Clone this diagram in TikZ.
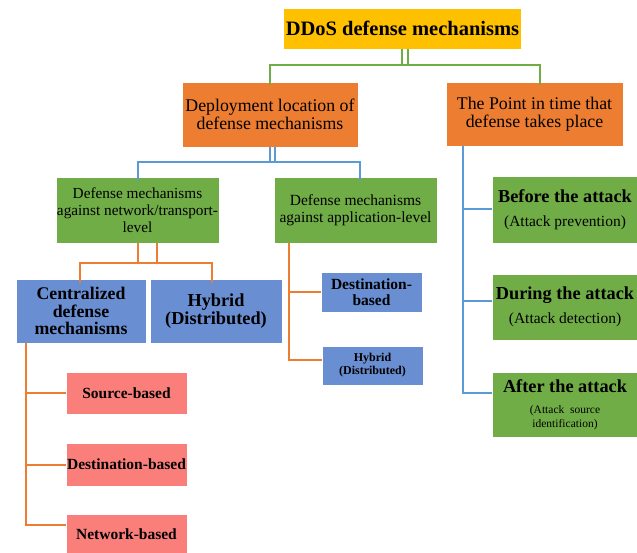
\documentclass[tikz,border=0pt]{standalone}
\usepackage{fontspec}
\setmainfont{Liberation Serif}
\definecolor{cyel}{HTML}{FFC000}
\definecolor{corg}{HTML}{ED7D31}
\definecolor{cgrn}{HTML}{70AD47}
\definecolor{cblu}{HTML}{6A8ED2}
\definecolor{cpnk}{HTML}{FA7F7A}
\definecolor{lblu}{HTML}{5B9BD5}
\newcommand{\smallsrc}{\fontsize{11.5}{13.5}\selectfont}
\newcommand{\subln}{\fontsize{15.5}{20}\selectfont}
\begin{document}
\begin{tikzpicture}[x=1pt,y=-1pt,
  box/.style={draw=white,line width=0.6pt,inner sep=1pt,align=center,text=black},
  gline/.style={draw=cgrn,line width=2pt},
  bline/.style={draw=lblu,line width=2pt},
  oline/.style={draw=corg,line width=2pt}]
\useasboundingbox (0,0) rectangle (637,553);
% top
\node[box,fill=cyel,minimum width=238,minimum height=41,font=\fontsize{20.5}{22}\selectfont\bfseries] (top) at (402.5,28.5) {DDoS defense mechanisms};
% level 1
\node[box,fill=corg,minimum width=176,minimum height=65,font=\fontsize{17.8}{18.5}\selectfont] (dep) at (270,114.5) {Deployment location of\\defense mechanisms};
\node[box,fill=corg,minimum width=177,minimum height=64,font=\fontsize{17.8}{18.5}\selectfont] (tim) at (534.5,114) {The Point in time that\\defense takes place};
% level 2
\node[box,fill=cgrn,minimum width=163,minimum height=66,font=\fontsize{15.3}{16.7}\selectfont] (net) at (137.5,210) {Defense mechanisms\\against network/transport-\\level};
\node[box,fill=cgrn,minimum width=163,minimum height=66,font=\fontsize{15.5}{17}\selectfont] (app) at (355.5,210) {Defense mechanisms\\against application-level};
% level 3
\node[box,fill=cblu,minimum width=130,minimum height=64,font=\fontsize{17.8}{17.8}\selectfont\bfseries] (cen) at (81,311) {Centralized\\defense\\mechanisms};
\node[box,fill=cblu,minimum width=132,minimum height=64,font=\fontsize{18.3}{18.5}\selectfont\bfseries] (hyb) at (216,311) {Hybrid\\(Distributed)};
\node[box,fill=cblu,minimum width=101,minimum height=40,font=\fontsize{15.5}{15.5}\selectfont\bfseries] (dst) at (371.5,292) {Destination-\\based};
\node[box,fill=cblu,minimum width=101,minimum height=39,font=\fontsize{12}{13}\selectfont\bfseries] (hyb2) at (372.5,365.5) {Hybrid\\(Distributed)};
% pink
\node[box,fill=cpnk,minimum width=121,minimum height=42,font=\fontsize{15.5}{17}\selectfont\bfseries] (src) at (126.5,393) {Source-based};
\node[box,fill=cpnk,minimum width=121,minimum height=43,font=\fontsize{15.5}{17}\selectfont\bfseries] (dbs) at (126.5,464.5) {Destination-based};
\node[box,fill=cpnk,minimum width=121,minimum height=40,font=\fontsize{15.5}{17}\selectfont\bfseries] (nbs) at (126.5,534) {Network-based};
% time boxes
\node[box,fill=cgrn,minimum width=146,minimum height=67,font=\fontsize{18.3}{24}\selectfont] (bef) at (565,209.5) {\textbf{Before the attack}\\\subln(Attack prevention)};
\node[box,fill=cgrn,minimum width=146,minimum height=66,font=\fontsize{18.3}{24}\selectfont] (dur) at (565,307) {\textbf{During the attack}\\\subln(Attack detection)};
\node[box,fill=cgrn,minimum width=146,minimum height=65,font=\fontsize{18.3}{23}\selectfont] (aft) at (565,404.5) {\textbf{After the attack}\\[-2pt]\smallsrc(Attack\ \ source\\[-9pt]\smallsrc identification)};
% green connector top
\draw[gline] ([xshift=-0.5]top.south) -- ++(0,16) coordinate (g1);
\draw[gline] ([xshift=5.5]top.south) -- ++(0,16);
\draw[gline] ([yshift=-3]dep.north) |- (g1) -| ([xshift=5.5,yshift=-3]tim.north);
% blue connector from dep
\draw[bline] (dep.south) -- ++(0,15) coordinate (b1);
\draw[bline] ([xshift=5]dep.south) -- ++(0,15);
\draw[bline] ([yshift=-4]net.north) |- (b1) -| ([xshift=4.5,yshift=-4]app.north);
% orange from net
\draw[oline] (net.south) -- ++(0,20) coordinate (o1);
\draw[oline] ([xshift=19.5]net.south) -- ++(0,20);
\draw[oline] ([xshift=-1,yshift=-4]cen.north) |- (o1) -| ([xshift=-4,yshift=-4]hyb.north);
% orange from cen
\draw[oline] ([xshift=-55]cen.south) |- (src.west);
\draw[oline] ([xshift=-55]cen.south) |- (dbs.west);
\draw[oline] ([xshift=-55]cen.south) |- ([yshift=9]nbs.west);
% orange from app
\draw[oline] ([xshift=-66.5]app.south) |- (dst.west);
\draw[oline] ([xshift=-66.5]app.south) |- ([yshift=6]hyb2.west);
% blue from tim
\draw[bline] ([xshift=-71.5]tim.south) |- (bef.west);
\draw[bline] ([xshift=-71.5]tim.south) |- ([yshift=6]dur.west);
\draw[bline] ([xshift=-71.5]tim.south) |- ([yshift=11.5]aft.west);
\end{tikzpicture}
\end{document}
